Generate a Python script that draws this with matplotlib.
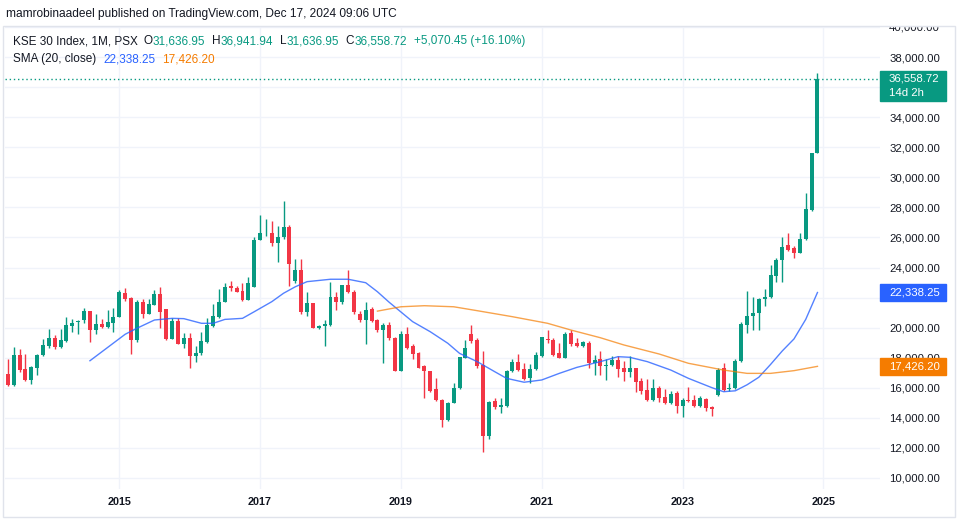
import numpy as np
import pandas as pd
import matplotlib
matplotlib.use("Agg")
import matplotlib.pyplot as plt
from matplotlib.patches import Rectangle
from matplotlib.ticker import FuncFormatter

plt.rcParams['font.family'] = ['Liberation Sans', 'DejaVu Sans']

# KSE 30 monthly candles, Jun 2013 .. Dec 2024
months = pd.period_range("2013-06", "2024-12", freq="M")

opens = [
    16900, 16170, 18160, 17230, 16520, 17350, 18160,
    18790, 19300, 18720, 19120, 20120, 20400, 20510, 21090, 19850, 20230, 20030, 20290,
    20710, 22290, 21960, 19190, 21710, 20890, 21510, 22220, 21220, 19230, 20450, 18900,
    19300, 18120, 18300, 19070, 20130, 20700, 21720, 22790, 22630, 22410, 21860, 22720,
    25850, 26270, 26330, 25600, 26000, 26670, 23120, 23830, 21010, 21630, 20010, 20100,
    20170, 22050, 21720, 22830, 22390, 20900, 20500, 21240, 20490, 19850, 20180, 19340,
    17120, 19560, 18780, 18300, 17450, 17120, 15900, 15190, 13860, 15020, 15970, 18010,
    19560, 19160, 17500, 12800, 15130, 14750, 14800, 17120, 17720, 17230, 16680, 17280,
    18120, 19270, 19160, 18300, 18010, 19650, 19000, 18780, 19000, 17670, 17940, 17450,
    17500, 17830, 17320, 17050, 17290, 16450, 15840, 15210, 16010, 15370, 15010, 15680,
    14790, 15180, 15180, 14770, 15230, 14720, 15530, 17340, 15900, 16010, 17790, 20180,
    20780, 20960, 21930, 22040, 23440, 24480, 25480, 25320, 24990, 25900, 27830, 31636.95,
]
highs = [
    17900, 18740, 18560, 18230, 17460, 18230, 19230,
    19890, 19520, 19940, 20740, 20560, 20500, 21340, 21100, 20890, 20560, 21160, 21340,
    22490, 22620, 22050, 21820, 21890, 21890, 22490, 22710, 21230, 20670, 20670, 19670,
    19630, 18790, 19730, 20620, 21550, 22560, 22940, 23120, 22790, 22940, 23340, 26000,
    27490, 27220, 27070, 26730, 28400, 26800, 24560, 24600, 22340, 21650, 20200, 20500,
    23070, 22340, 22830, 23830, 22500, 21100, 21740, 21350, 20550, 20300, 20400, 19400,
    19800, 20050, 18900, 18400, 17500, 17150, 16680, 15250, 15050, 16350, 18050, 19180,
    20160, 19300, 18450, 15100, 15300, 15350, 17200, 17900, 18230, 17680, 17560, 18390,
    19410, 19830, 19300, 18990, 19700, 19850, 19340, 19110, 19110, 18160, 18450, 17890,
    18140, 18140, 17800, 18090, 17350, 16670, 16570, 16610, 16100, 15900, 15800, 15800,
    15300, 16080, 15520, 15450, 15350, 14800, 17300, 17680, 16300, 17920, 20400, 22440,
    22070, 21950, 22550, 24150, 24660, 26030, 26280, 25400, 26320, 28940, 31650, 36941.94,
]
lows = [
    16120, 16100, 17050, 16460, 16280, 16840, 18120,
    18680, 18560, 18680, 19070, 19720, 19560, 20290, 19050, 19610, 20000, 20000, 19720,
    20710, 21780, 18230, 19070, 20630, 20890, 21510, 20000, 19180, 19230, 18900, 18680,
    17300, 17740, 18200, 19000, 20050, 20650, 21700, 22450, 22340, 21750, 21860, 22700,
    25800, 26100, 25450, 24380, 25900, 22790, 23000, 20900, 20750, 19950, 19900, 18800,
    20100, 21190, 21570, 22300, 20900, 20400, 18910, 20400, 19680, 17650, 19200, 17100,
    17100, 18600, 17900, 17300, 15350, 15720, 15150, 13420, 13800, 15000, 15950, 17950,
    19000, 17300, 11740, 12600, 14600, 14310, 14750, 17050, 17100, 16550, 16350, 17200,
    18050, 19000, 18100, 17950, 17950, 18800, 18700, 18700, 17340, 16830, 16830, 16540,
    17450, 16700, 16420, 16740, 15700, 15570, 15100, 15150, 15060, 14950, 14950, 14350,
    14080, 15050, 14700, 14700, 14460, 14130, 15450, 15800, 15800, 15950, 17700, 19630,
    19850, 19850, 21440, 21950, 23030, 23030, 25100, 24610, 24950, 25850, 27750, 31636.95,
]
closes = [
    16170, 18160, 17170, 16520, 17390, 18160, 18830,
    19300, 18720, 19160, 20160, 20290, 20470, 21090, 19850, 20230, 20030, 20380, 20740,
    22380, 21890, 19190, 21710, 20890, 21600, 22270, 21050, 19230, 20450, 18900, 19300,
    18120, 18340, 19130, 20180, 20750, 21720, 22720, 22650, 22390, 21860, 22940, 25850,
    26330, 26330, 25600, 26000, 26670, 24230, 23830, 21010, 21630, 20010, 20100, 20240,
    22050, 21720, 22830, 22390, 21010, 20500, 21190, 20460, 19850, 20180, 19290, 17120,
    19560, 18670, 18230, 17340, 17120, 15790, 15190, 13860, 15020, 15970, 18050, 18670,
    19120, 17460, 12800, 15080, 14730, 14840, 17120, 17720, 17190, 16610, 17280, 18160,
    19400, 19160, 18160, 18010, 19600, 18890, 18780, 19050, 17670, 17830, 17420, 17540,
    17830, 17250, 17050, 17290, 16390, 15790, 15210, 16010, 15310, 15010, 15620, 14790,
    15180, 15120, 14770, 15340, 14680, 14610, 17200, 15870, 16010, 17790, 20230, 20780,
    20960, 21930, 22040, 23480, 24480, 25370, 25150, 24990, 25920, 27920, 31636.95, 36558.72,
]

# SMA(20) line and its smoothing line
sma_dates = ["2014-08", "2015-02", "2015-04", "2015-07", "2015-10", "2015-12", "2016-03",
             "2016-05", "2016-07", "2016-10", "2016-12", "2017-03", "2017-05", "2017-07",
             "2017-09", "2018-01", "2018-04", "2018-07", "2018-09", "2018-11", "2019-03",
             "2019-06", "2019-09", "2019-11", "2020-02", "2020-05", "2020-07", "2020-10",
             "2021-01", "2021-04", "2021-07", "2021-11", "2022-02", "2022-04", "2022-07",
             "2022-11", "2023-02", "2023-06", "2023-08", "2023-10", "2023-12", "2024-02",
             "2024-04", "2024-06", "2024-08", "2024-10", "2024-12"]
sma_vals = [17800, 19560, 19960, 20510, 20620, 20600, 20290,
            20290, 20550, 20620, 21060, 21730, 22290, 22720,
            23060, 23220, 23220, 22990, 22390, 21690, 20400,
            19730, 18960, 18290, 17740, 17070, 16630, 16370,
            16520, 16960, 17360, 17740, 18070, 18030, 17740,
            17180, 16630, 16010, 15740, 15800, 16200, 16700,
            17550, 18450, 19250, 20550, 22338.25]
smooth_dates = ["2018-09", "2019-01", "2019-05", "2019-10", "2020-02", "2020-08", "2021-02",
                "2021-06", "2021-11", "2022-03", "2022-09", "2023-02", "2023-08", "2023-12",
                "2024-04", "2024-08", "2024-12"]
smooth_vals = [21100, 21390, 21460, 21390, 21130, 20730, 20290,
               19840, 19330, 18850, 18250, 17630, 17180, 16960,
               16960, 17140, 17426.20]

year_labels = ["2015", "2017", "2019", "2021", "2023", "2025"]
price_ticks = list(range(10000, 40001, 2000))
hidden_ticks = [22000, 36000]   # sit under the price labels

up_col = "#089981"
down_col = "#f23645"
blue = "#2962ff"
orange = "#f57c00"
txt_col = "#131722"
grid_col = "#f0f3fa"

W, H = 958, 524
fig = plt.figure(figsize=(W / 100, H / 100), dpi=100)


def fx(px):
    return px / W


def fy(py):
    return 1 - py / H


ax = fig.add_axes([fx(5), fy(489), fx(880) - fx(5), fy(27) - fy(489)])

x = np.arange(len(months))
o = np.array(opens)
c = np.array(closes)
cols = np.where(c >= o, up_col, down_col)

ax.vlines(x, lows, highs, colors=cols, lw=1, zorder=2)
body = np.maximum(np.abs(c - o), 45)
ax.bar(x, body, 0.68, bottom=np.minimum(o, c), color=cols, zorder=3, linewidth=0)


def pos(dates):
    return [(pd.Period(d, "M") - months[0]).n for d in dates]


ax.plot(pos(sma_dates), sma_vals, color=blue, lw=1, alpha=0.8, zorder=4)
ax.plot(pos(smooth_dates), smooth_vals, color=orange, lw=1, alpha=0.7, zorder=4)

ax.axhline(closes[-1], color=up_col, lw=1, ls=(0, (1, 2)), zorder=1)

ax.set_xlim(-0.48, 148.66)
ax.set_ylim(9268, 40000)

ax.set_xticks(pos([y + "-01" for y in year_labels]))
ax.set_xticklabels(year_labels, fontsize=7.8, fontweight="bold", color=txt_col)
ax.set_yticks(price_ticks)
ax.yaxis.set_major_formatter(
    FuncFormatter(lambda v, p: "" if int(round(v)) in hidden_ticks else f"{v:,.2f}"))
ax.yaxis.tick_right()
ax.tick_params(axis="y", length=0, pad=6.5, labelsize=8.2, labelcolor=txt_col)
ax.tick_params(axis="x", length=0, pad=5.9)
ax.grid(True, color=grid_col, lw=1, zorder=0)
ax.set_axisbelow(True)
for s in ax.spines.values():
    s.set_visible(False)

# cover the clipped top of the 40,000 label, then the frame
fig.add_artist(Rectangle((fx(860), fy(26)), 1 - fx(860), 1 - fy(26),
                         transform=fig.transFigure, color="white", zorder=4))
fig.add_artist(Rectangle((fx(3), fy(517)), fx(955) - fx(3), fy(26) - fy(517),
                         transform=fig.transFigure, fill=False, ec="#e0e3eb", lw=1, zorder=5))

fig.text(fx(6), fy(14), "mamrobinaadeel published on TradingView.com, Dec 17, 2024 09:06 UTC",
         fontsize=8.6, color=txt_col, va="center", zorder=6)


def chain(parts, px, py, size):
    prev = fig.text(fx(px), fy(py), parts[0][0], color=parts[0][1], fontsize=size,
                    va="center", ha="left", zorder=6)
    for s, col, gap in parts[1:]:
        prev = ax.annotate(s, xy=(1, 0), xycoords=prev, xytext=(gap, 0),
                           textcoords="offset points", color=col, fontsize=size,
                           va="bottom", ha="left", annotation_clip=False, zorder=6)


chain([("KSE 30 Index, 1M, PSX", txt_col, 0),
       ("O", txt_col, 4), ("31,636.95", up_col, 0),
       ("H", txt_col, 5), ("36,941.94", up_col, 0),
       ("L", txt_col, 5), ("31,636.95", up_col, 0),
       ("C", txt_col, 5), ("36,558.72", up_col, 0),
       ("+5,070.45 (+16.10%)", up_col, 5)], 13, 41, 8.5)
chain([("SMA (20, close)", txt_col, 0),
       ("22,338.25", blue, 5), ("17,426.20", orange, 5)], 13, 59, 8.5)


def price_box(y0, y1, col, lines):
    fig.add_artist(Rectangle((fx(880), fy(y1)), fx(946) - fx(880), fy(y0) - fy(y1),
                             transform=fig.transFigure, color=col, zorder=6))
    for s, yy in lines:
        fig.text(fx(889), fy(yy), s, color="white", fontsize=8.2, va="center", zorder=7)


price_box(70.5, 101, up_col, [("36,558.72", 78.5), ("14d 2h", 93)])
price_box(284, 301, blue, [("22,338.25", 292.5)])
price_box(358, 375, orange, [("17,426.20", 366.5)])

fig.savefig("out.png", dpi=100, facecolor="white")
